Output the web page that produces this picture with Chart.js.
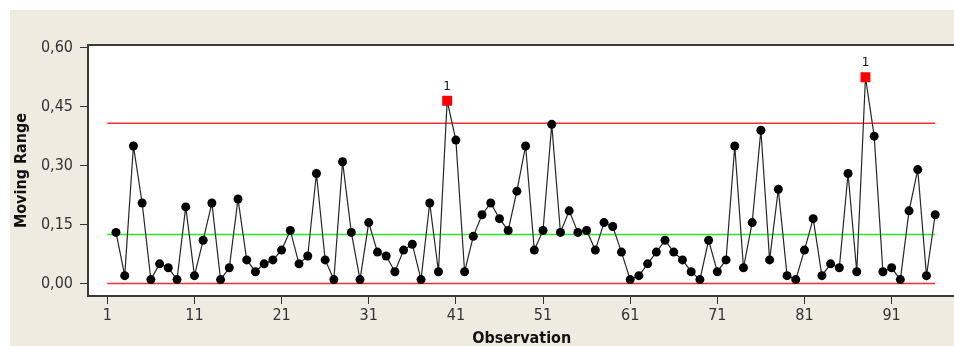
<!DOCTYPE html>
<html>
<head>
<meta charset="utf-8">
<title>Moving Range</title>
<script src="https://cdn.jsdelivr.net/npm/chart.js@4.4.1/dist/chart.umd.min.js"></script>
<style>
  html, body { margin: 0; padding: 0; background: #fff; overflow: hidden; }
  body { width: 954px; height: 346px; }
  #wrap { width: 960px; height: 346px; }
  canvas { display: block; }
</style>
</head>
<body>
<div id="wrap"><canvas id="mrChart" width="960" height="346" style="width:960px;height:346px"></canvas></div>
<script>
// moving ranges, first one belongs to observation 2
const firstObs = 2;
const movingRange = [
  0.13, 0.02, 0.35, 0.205, 0.01, 0.05, 0.04, 0.01, 0.195, 0.02,
  0.11, 0.205, 0.01, 0.04, 0.215, 0.06, 0.03, 0.05, 0.06, 0.085,
  0.135, 0.05, 0.07, 0.28, 0.06, 0.01, 0.31, 0.13, 0.01, 0.155,
  0.08, 0.07, 0.03, 0.085, 0.10, 0.01, 0.205, 0.03, 0.465, 0.365,
  0.03, 0.12, 0.175, 0.205, 0.165, 0.135, 0.235, 0.35, 0.085, 0.135,
  0.405, 0.13, 0.185, 0.13, 0.135, 0.085, 0.155, 0.145, 0.08, 0.01,
  0.02, 0.05, 0.08, 0.11, 0.08, 0.06, 0.03, 0.01, 0.11, 0.03,
  0.06, 0.35, 0.04, 0.155, 0.39, 0.06, 0.24, 0.02, 0.01, 0.085,
  0.165, 0.02, 0.05, 0.04, 0.28, 0.03, 0.525, 0.375, 0.03, 0.04,
  0.01, 0.185, 0.29, 0.02, 0.175
];

// control limits
const mrBar = 0.125;
const ucl = 0.408;
const lcl = 0;
const limitStart = 1;
const limitEnd = 96;

const xTickValues = [1, 11, 21, 31, 41, 51, 61, 71, 81, 91];
const yTickValues = [0, 0.15, 0.30, 0.45, 0.60];
const yTickLabels = ['0,00', '0,15', '0,30', '0,45', '0,60'];

const BEIGE = '#efebe1';
const tickFont = { family: '"DejaVu Sans Condensed", "DejaVu Sans", sans-serif', size: 16 };
const titleFont = { family: '"DejaVu Sans Condensed", "DejaVu Sans", sans-serif', size: 16, weight: 'bold' };

const isOut = v => v > ucl;
const limitLine = y => [{ x: limitStart, y: y }, { x: limitEnd, y: y }];

// beige panel with a white plot area on top
const panelBg = {
  id: 'panelBg',
  beforeDraw(chart) {
    const { ctx, chartArea: a, width, height } = chart;
    ctx.save();
    ctx.fillStyle = '#fff';
    ctx.fillRect(0, 0, width, height);
    ctx.fillStyle = BEIGE;
    ctx.fillRect(10, 10, width - 10, height - 10);
    ctx.fillStyle = '#fff';
    ctx.fillRect(a.left, a.top, a.right - a.left, a.bottom - a.top);
    ctx.restore();
  }
};

const plotFrame = {
  id: 'plotFrame',
  beforeDatasetsDraw(chart) {
    const { ctx, chartArea: a } = chart;
    ctx.save();
    ctx.strokeStyle = '#3a3a3a';
    ctx.lineWidth = 2;
    ctx.strokeRect(a.left, a.top, a.right - a.left, a.bottom - a.top);
    ctx.restore();
  }
};

// test 1 flag over points beyond the upper limit
const outFlags = {
  id: 'outFlags',
  afterDatasetsDraw(chart) {
    const { ctx } = chart;
    const meta = chart.getDatasetMeta(0);
    ctx.save();
    ctx.fillStyle = '#111';
    ctx.font = '12px "DejaVu Sans", sans-serif';
    ctx.textAlign = 'center';
    ctx.textBaseline = 'middle';
    meta.data.forEach((pt, i) => {
      if (isOut(movingRange[i])) ctx.fillText('1', pt.x, pt.y - 14);
    });
    ctx.restore();
  }
};

const ctx = document.getElementById('mrChart').getContext('2d');
const chart = new Chart(ctx, {
  type: 'line',
  data: {
    datasets: [
      {
        label: 'MR',
        data: movingRange.map((v, i) => ({ x: firstObs + i, y: v })),
        borderColor: '#262626',
        borderWidth: 1.2,
        tension: 0,
        pointStyle: c => (c.raw && isOut(c.raw.y)) ? 'rect' : 'circle',
        pointRadius: c => (c.raw && isOut(c.raw.y)) ? 7 : 4.5,
        pointBackgroundColor: c => (c.raw && isOut(c.raw.y)) ? '#ff0000' : '#000',
        pointBorderColor: c => (c.raw && isOut(c.raw.y)) ? '#ff0000' : '#000',
        pointBorderWidth: 0,
        order: 0
      },
      { label: 'UCL', data: limitLine(ucl), borderColor: '#f03030', borderWidth: 1.5, pointRadius: 0, order: 1 },
      { label: 'MR-bar', data: limitLine(mrBar), borderColor: '#22ee22', borderWidth: 1.5, pointRadius: 0, order: 2 },
      { label: 'LCL', data: limitLine(lcl), borderColor: '#f03030', borderWidth: 1.5, pointRadius: 0, order: 3 }
    ]
  },
  options: {
    responsive: false,
    animation: false,
    devicePixelRatio: 1,
    layout: { padding: { left: 0, top: 45, right: 0, bottom: 0 } },
    plugins: {
      legend: { display: false },
      tooltip: { enabled: false }
    },
    scales: {
      x: {
        type: 'linear',
        min: -1.213,
        max: 98.33,
        afterBuildTicks: s => { s.ticks = xTickValues.map(v => ({ value: v })); },
        afterFit: s => { s.height = 50; },
        border: { display: false },
        grid: { drawOnChartArea: false, tickLength: 8, tickColor: '#333', lineWidth: 1 },
        ticks: { font: tickFont, color: '#333', padding: 2, maxRotation: 0, autoSkip: false,
                 callback: v => String(v) },
        title: { display: true, text: 'Observation', font: Object.assign({ lineHeight: 0.875 }, titleFont),
                 color: '#111', padding: 0 }
      },
      y: {
        min: -0.0318,
        max: 0.607,
        afterBuildTicks: s => { s.ticks = yTickValues.map(v => ({ value: v })); },
        afterFit: s => { s.width = 88; },
        border: { display: false },
        grid: { drawOnChartArea: false, tickLength: 8, tickColor: '#333', lineWidth: 1 },
        ticks: { font: tickFont, color: '#333', padding: 7,
                 callback: (v, i) => yTickLabels[i] },
        title: { display: true, text: 'Moving Range', font: titleFont, color: '#111',
                 padding: { top: 12, bottom: 0 } }
      }
    }
  },
  plugins: [panelBg, plotFrame, outFlags]
});
</script>
</body>
</html>
